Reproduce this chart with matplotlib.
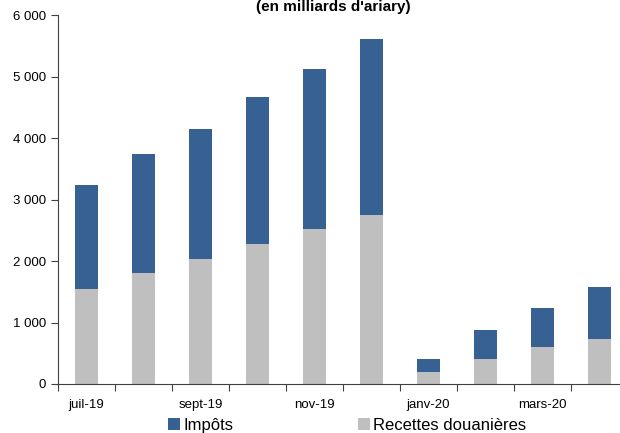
import matplotlib.pyplot as plt
from matplotlib.ticker import FuncFormatter

plt.rcParams['font.family'] = ['Liberation Sans', 'DejaVu Sans']

months = ["juil-19", "août-19", "sept-19", "oct-19", "nov-19", "déc-19",
          "janv-20", "févr-20", "mars-20", "avr-20"]
douane = [1545, 1805, 2033, 2276, 2520, 2748, 195, 407, 602, 732]
impots_total = [3236, 3740, 4146, 4667, 5122, 5610, 407, 878, 1236, 1577]
impots = [t - d for t, d in zip(impots_total, douane)]

blue = "#376193"
grey = "#bfbfbf"

fig = plt.figure(figsize=(6.2, 4.33), dpi=100)
ax = fig.add_axes([58/620, 49/433, 570/620, 369/433])

x = list(range(len(months)))
ax.bar(x, douane, width=0.4, color=grey, label="Recettes douanières")
ax.bar(x, impots, width=0.4, bottom=douane, color=blue, label="Impôts")

ax.set_xlim(-0.5, len(months) - 0.5)
ax.set_ylim(0, 6000)
ax.set_yticks(range(0, 6001, 1000))
ax.yaxis.set_major_formatter(FuncFormatter(lambda v, p: "{:,}".format(int(v)).replace(",", " ")))

ax.set_xticks([i - 0.5 for i in range(len(months) + 1)])
ax.set_xticklabels([])
ax.set_xticks(x[::2], minor=True)
ax.set_xticklabels(months[::2], minor=True)
ax.tick_params(axis='x', which='minor', length=0, pad=11, labelsize=9.5)
ax.tick_params(axis='x', which='major', length=5, color="#404040")
ax.tick_params(axis='y', length=5, color="#404040", labelsize=9.5)

for s in ["top", "right"]:
    ax.spines[s].set_visible(False)
ax.spines["left"].set_color("#404040")
ax.spines["bottom"].set_color("#404040")

h, l = ax.get_legend_handles_labels()
fig.legend(h[::-1], l[::-1], loc="lower center", bbox_to_anchor=(0.56, -0.035), ncol=2,
           frameon=False, fontsize=12, handlelength=0.7, handleheight=0.7,
           handletextpad=0.2, columnspacing=7.5)

fig.text(0.537, 1.0, "(en milliards d'ariary)", ha="center", va="top",
         fontsize=11, fontweight="bold")

fig.savefig("out.png", dpi=100)
